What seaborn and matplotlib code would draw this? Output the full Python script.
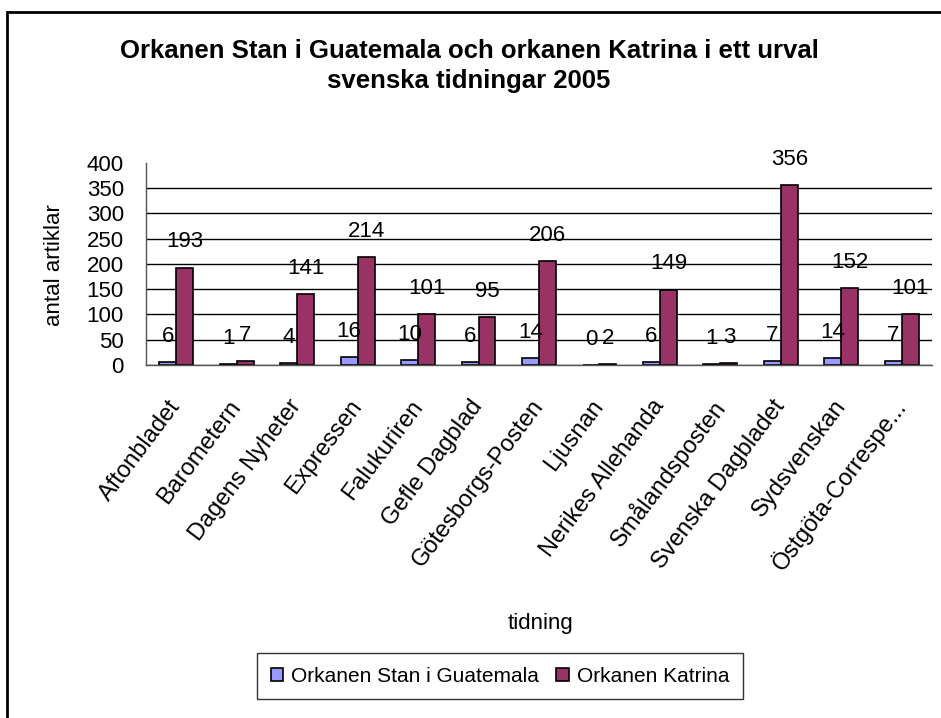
import matplotlib
matplotlib.use('Agg')
import matplotlib.pyplot as plt
import matplotlib.patches as patches
import seaborn as sns
import pandas as pd
import numpy as np

# Newspapers and article counts
tidningar = ['Aftonbladet', 'Barometern', 'Dagens Nyheter', 'Expressen', 'Falukuriren',
             'Gefle Dagblad', 'Götesborgs-Posten', 'Ljusnan', 'Nerikes Allehanda',
             'Smålandsposten', 'Svenska Dagbladet', 'Sydsvenskan', 'Östgöta-Correspe...']
stan = [6, 1, 4, 16, 10, 6, 14, 0, 6, 1, 7, 14, 7]
katrina = [193, 7, 141, 214, 101, 95, 206, 2, 149, 3, 356, 152, 101]
serier = ['Orkanen Stan i Guatemala', 'Orkanen Katrina']
y_ticks = [0, 50, 100, 150, 200, 250, 300, 350, 400]

rows = []
for i, t in enumerate(tidningar):
    rows.append({'tidning': t, 'serie': serier[0], 'antal': stan[i]})
    rows.append({'tidning': t, 'serie': serier[1], 'antal': katrina[i]})
df = pd.DataFrame(rows)

sns.set_style('white')
plt.rcParams['font.family'] = ['Liberation Sans', 'DejaVu Sans']
plt.rcParams['text.color'] = 'black'
plt.rcParams['axes.labelcolor'] = 'black'
plt.rcParams['xtick.color'] = 'black'
plt.rcParams['ytick.color'] = 'black'

fig = plt.figure(figsize=(9.41, 7.18), dpi=100)
ax = fig.add_axes([146 / 941, 1 - 365 / 718, 786 / 941, 202 / 718])

sns.barplot(data=df, x='tidning', y='antal', hue='serie', order=tidningar,
            hue_order=serier, palette=['#9999FF', '#993366'], edgecolor='black',
            linewidth=1.2, width=0.56, saturation=1, ax=ax, legend=False)

for c in ax.containers:
    ax.bar_label(c, padding=11, fontsize=16)

ax.set_ylim(0, 400)
ax.set_xlim(-0.5, len(tidningar) - 0.5)
ax.set_yticks(y_ticks)
ax.yaxis.grid(True, color='black', lw=1)
ax.get_ygridlines()[-1].set_visible(False)
ax.set_axisbelow(True)

for s in ['top', 'right']:
    ax.spines[s].set_visible(False)
for s in ['left', 'bottom']:
    ax.spines[s].set_color('#555555')
    ax.spines[s].set_linewidth(1)

ax.set_xticks(np.arange(-0.5, len(tidningar), 1), minor=True)
ax.tick_params(axis='x', which='major', length=0, pad=27, labelsize=17)
ax.tick_params(axis='x', which='minor', length=5, width=1, color='#555555', direction='out')
ax.tick_params(axis='y', length=5, width=1, color='#555555', direction='out', pad=11, labelsize=16)
plt.setp(ax.get_xticklabels(), rotation=53, ha='right', va='center', rotation_mode='anchor')

ax.set_xlabel('tidning', fontsize=16, labelpad=0)
ax.xaxis.set_label_coords(540 / 941, 1 - 613 / 718, transform=fig.transFigure)
ax.set_ylabel('antal artiklar', fontsize=16)
ax.yaxis.set_label_coords(65 / 941, 1 - 265 / 718, transform=fig.transFigure)

fig.text(469 / 941, 1 - 66 / 718,
         'Orkanen Stan i Guatemala och orkanen Katrina i ett urval\nsvenska tidningar 2005',
         ha='center', va='center', fontsize=18.5, fontweight='bold', linespacing=1.35)

handles = [patches.Patch(facecolor='#9999FF', edgecolor='black', lw=1.2),
           patches.Patch(facecolor='#993366', edgecolor='black', lw=1.2)]
leg = fig.legend(handles, serier, loc='center', bbox_to_anchor=(500 / 941, 1 - 676 / 718),
                 ncol=2, fontsize=15, frameon=True, fancybox=False, handlelength=0.6,
                 handleheight=0.6, handletextpad=0.4, columnspacing=0.8, borderpad=0.65,
                 borderaxespad=0)
leg.get_frame().set_edgecolor('black')
leg.get_frame().set_linewidth(1)

fig.patches.append(patches.Rectangle((7 / 941, -0.1), 1.2, 1.1 - 12 / 718, transform=fig.transFigure,
                                     fill=False, lw=2, edgecolor='black'))

fig.savefig('out.png', dpi=100)
